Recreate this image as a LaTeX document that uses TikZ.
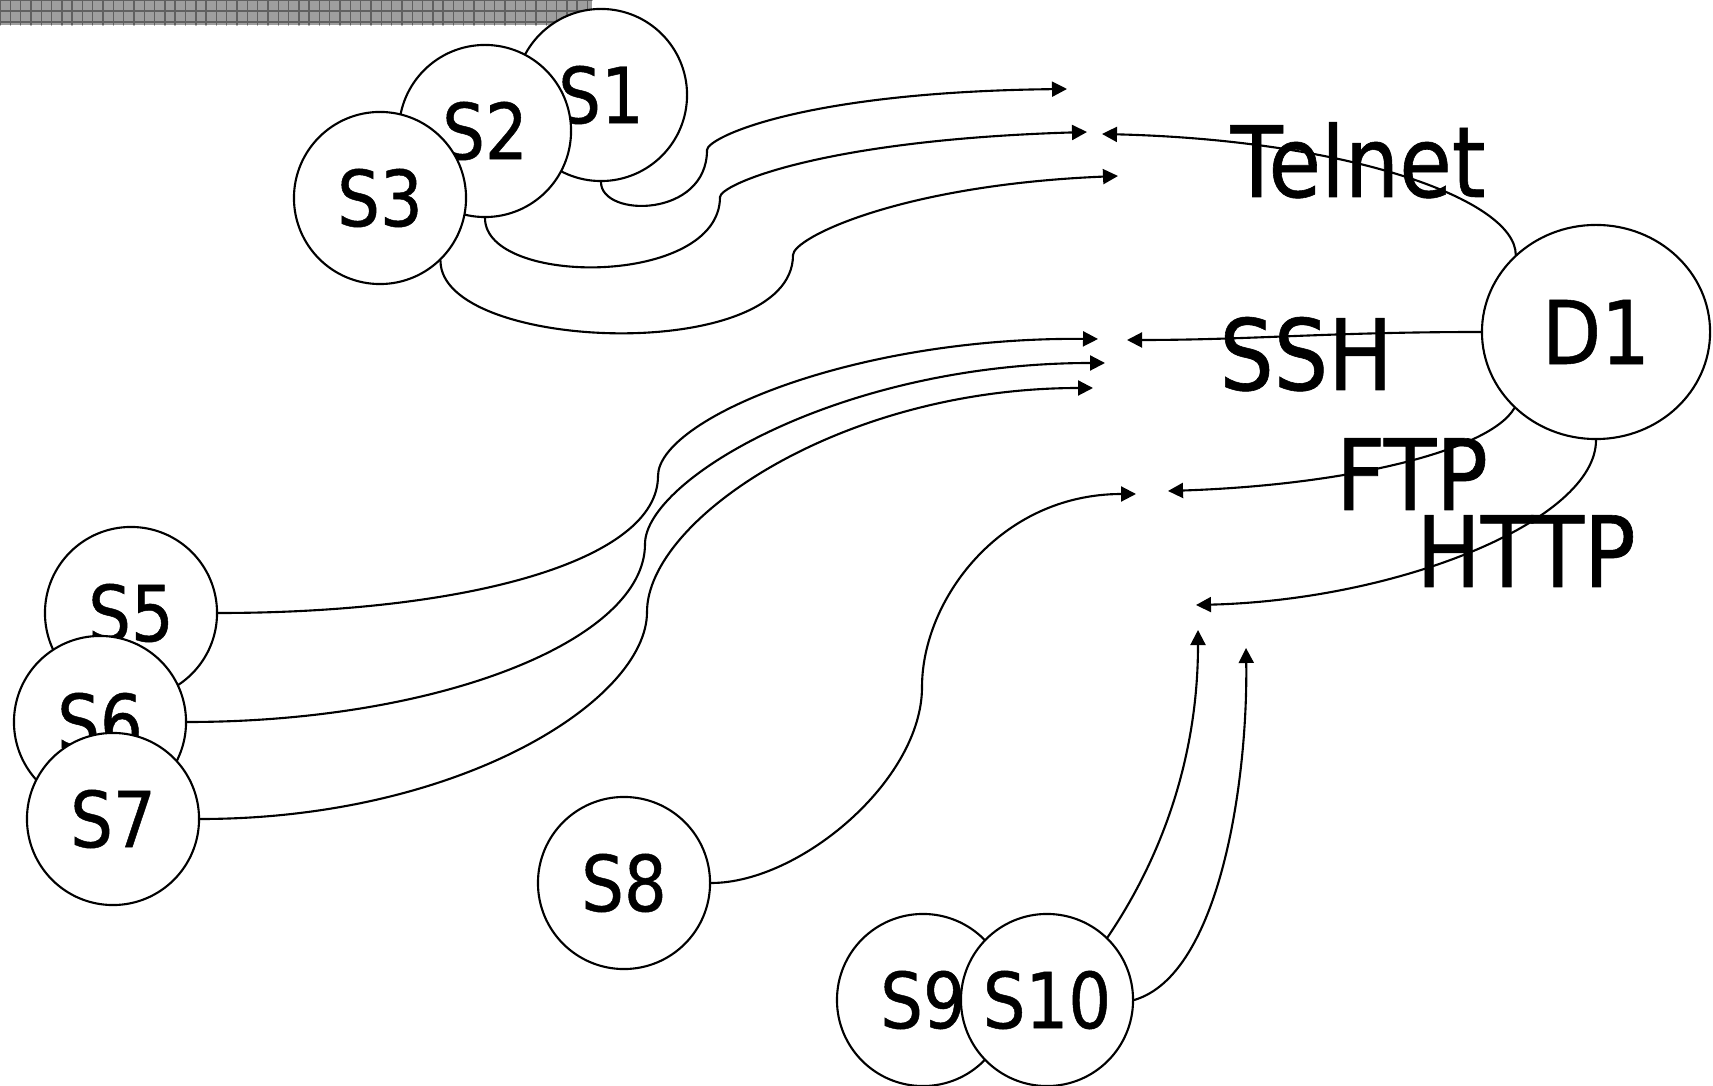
\documentclass[tikz,border=0pt]{standalone}
\usepackage{fontspec}
\setmainfont{DejaVu Sans}[FakeStretch=0.87, FakeBold=0.6]
\usetikzlibrary{arrows.meta, shapes.geometric}
\definecolor{barfill}{RGB}{158,158,158}
\definecolor{barline}{RGB}{96,96,96}
\newcommand{\hostfont}{\fontsize{22}{26}\selectfont}
\newcommand{\protofont}{\fontsize{28}{34}\selectfont}

\begin{document}
\begin{tikzpicture}[x=0.01cm, y=-0.01cm, line cap=round,
        host/.style={circle, draw, line width=0.6pt, fill=white, minimum size=1.72cm, inner sep=0pt, font=\hostfont},
        proto/.style={anchor=base, inner sep=0pt, font=\protofont},
        flow/.style={line width=0.6pt, -{Triangle[length=0.15cm, width=0.15cm]}}]
        \useasboundingbox (0,0) rectangle (1713,1086);

        % strip in the corner
        \fill [barfill] (0,0) rectangle (592,25);
        \draw [barline, line width=0.4pt, xstep=0.103cm, ystep=0.11cm] (0,0) grid (592,25);

        % sources
        \node[host] (S1) at (601,95) {S1};
        \node[host] (S2) at (485,131) {S2};
        \node[host] (S3) at (380,198) {S3};

        \node[host] (S5) at (131,613) {S5};
        \node[host] (S6) at (100,722) {S6};
        \node[host] (S7) at (113,819) {S7};

        \node[host] (S8) at (624,883) {S8};
        \node[host] (S9) at (923,1000) {S9};
        \node[host] (S10) at (1047,1000) {S10};

        % destination
        \node[ellipse, draw, line width=0.6pt, fill=white, minimum width=2.28cm, minimum height=2.14cm,
              inner sep=0pt, font=\fontsize{25}{30}\selectfont] (D1) at (1596,332) {D1};

        \node[proto] (telnet) at (1358,197) {Telnet};
        \node[proto] (ssh) at (1306,390) {SSH};
        \node[proto] (ftp) at (1412,510) {FTP};
        \node[proto] (http) at (1526,587) {HTTP};

        % arrow ends
        \coordinate (tel1) at (1067,89);
        \coordinate (tel2) at (1087,132);
        \coordinate (tel3) at (1118,176);
        \coordinate (telD) at (1102,134);
        \coordinate (ssh5) at (1098,339);
        \coordinate (ssh6) at (1105,363);
        \coordinate (ssh7) at (1093,388);
        \coordinate (sshD) at (1127,340);
        \coordinate (ftp8) at (1136,494);
        \coordinate (ftpD) at (1168,491);
        \coordinate (httpD) at (1196,605);
        \coordinate (http10a) at (1198,630);
        \coordinate (http10b) at (1246,648);

        % telnet
        \draw[flow] (S1.south) .. controls (601,218) and (707,218) .. (707,150)
                    .. controls (707,138) and (800,92) .. (tel1);
        \draw[flow] (S2.south) .. controls (485,287) and (720,287) .. (720,197)
                    .. controls (720,185) and (820,140) .. (tel2);
        \draw[flow] (S3.-46) .. controls (440,352) and (793,365) .. (793,255)
                    .. controls (793,238) and (900,185) .. (tel3);
        \draw[flow] (D1.136) .. controls (1515,200) and (1350,140) .. (telD);

        % ssh
        \draw[flow] (S5.east) .. controls (470,613) and (658,560) .. (658,476)
                    .. controls (658,420) and (850,337) .. (ssh5);
        \draw[flow] (S6.east) .. controls (440,722) and (645,640) .. (645,544)
                    .. controls (645,480) and (840,363) .. (ssh6);
        \draw[flow] (S7.east) .. controls (460,819) and (647,700) .. (647,612)
                    .. controls (647,520) and (840,388) .. (ssh7);
        \draw[flow] (D1.west) .. controls (1330,332) and (1250,340) .. (sshD);

        % ftp
        \draw[flow] (S8.east) .. controls (800,883) and (922,780) .. (922,687)
                    .. controls (922,600) and (1000,494) .. (ftp8);
        \draw[flow] (D1.223) .. controls (1490,450) and (1350,485) .. (ftpD);

        % http
        \draw[flow] (D1.south) .. controls (1596,520) and (1400,600) .. (httpD);
        \draw[flow] (S10.46) .. controls (1160,860) and (1198,760) .. (http10a);
        \draw[flow] (S10.east) .. controls (1220,975) and (1248,780) .. (http10b);
\end{tikzpicture}
\end{document}
